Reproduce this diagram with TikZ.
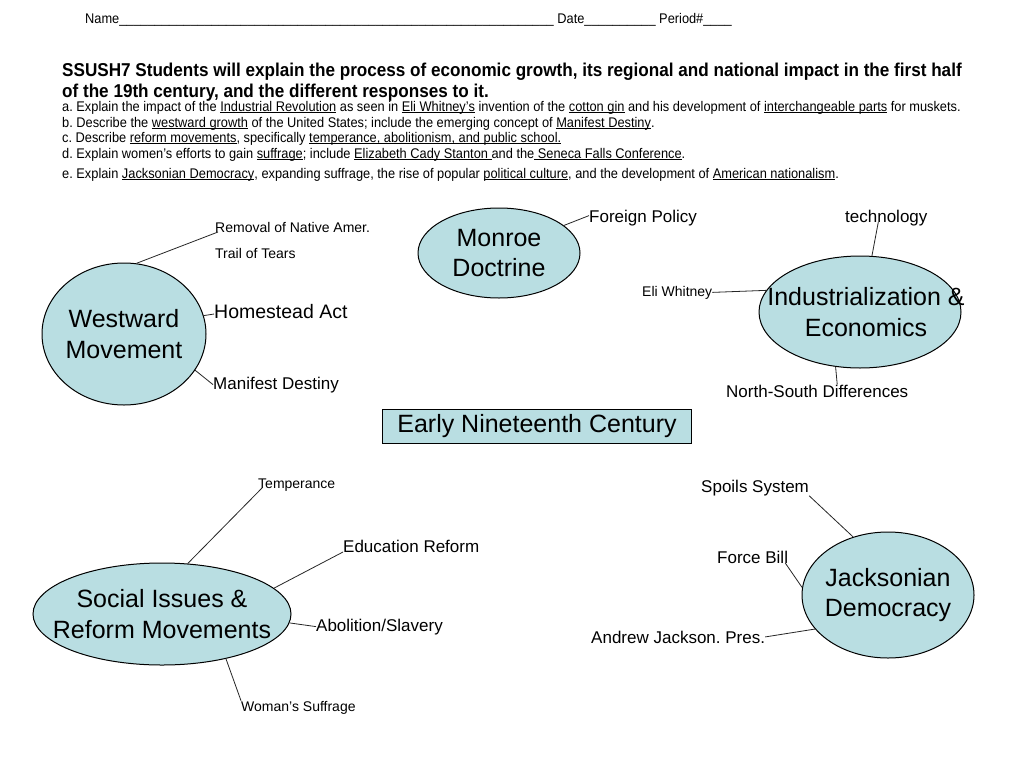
\documentclass[tikz,border=0pt]{standalone}
\usepackage{fontspec}
\setmainfont{Liberation Sans}
\newfontfamily\headfont[FakeStretch=0.915]{Liberation Sans}
\newfontfamily\titlefont[FakeStretch=0.92]{Liberation Sans}
\usetikzlibrary{shapes.geometric}

\definecolor{bubfill}{RGB}{185,222,226}
\newcommand{\fsz}[2]{\fontsize{#1}{#2}\selectfont}
\newcommand{\ul}[1]{\underline{\smash{#1}}}
\newcommand{\blanks}[1]{\foreach \i in {1,...,#1}{\_}}
\frenchspacing

\begin{document}
\begin{tikzpicture}[x=1pt, y=-1pt,
  bub/.style={ellipse, draw=black, fill=bubfill, line width=1pt, inner sep=0pt},
  bubtxt/.style={align=center, inner sep=0pt, font=\fsz{25}{30.5}},
  ctrbox/.style={draw=black, fill=bubfill, line width=1pt, inner sep=0pt, font=\fsz{25}{30}},
  lbl/.style={anchor=base west, inner sep=0pt, font=\fsz{17}{20}},
  sml/.style={lbl, font=\fsz{14}{17}},
  hline/.style={anchor=base west, inner sep=0pt, font=\headfont\fsz{14}{16}},
  ttl/.style={anchor=base west, inner sep=0pt, font=\titlefont\bfseries\fsz{18.6}{21}},
  link/.style={draw=black!85, line width=0.8pt}]
\fill[white] (0,0) rectangle (1024,768);
\useasboundingbox (0,0) rectangle (1024,768);

% worksheet header
\node[hline] (name) at (85,24) {Name\blanks{61} Date\blanks{10} Period\#\blanks{4}};
\node[ttl] (t1) at (62,76) {SSUSH7 Students will explain the process of economic growth, its regional and national impact in the first half};
\node[ttl] (t2) at (62,97) {of the 19th century, and the different responses to it.};
\node[hline] (la) at (62,111) {a. Explain the impact of the \ul{Industrial Revolution} as seen in \ul{Eli Whitney’s} invention of the \ul{cotton gin} and his development of \ul{interchangeable parts} for muskets.};
\node[hline] (lb) at (62,127) {b. Describe the \ul{westward growth} of the United States; include the emerging concept of \ul{Manifest Destiny}.};
\node[hline] (lc) at (62,142) {c. Describe \ul{reform movements}, specifically \ul{temperance, abolitionism, and public school.}};
\node[hline] (ld) at (62,158) {d. Explain women’s efforts to gain \ul{suffrage}; include \ul{Elizabeth Cady Stanton }and the\ul{ Seneca Falls Conference}.};
\node[hline] (le) at (62,178) {e. Explain \ul{Jacksonian Democracy}, expanding suffrage, the rise of popular \ul{political culture}, and the development of \ul{American nationalism}.};

% topic bubbles
\node[bub, minimum width=162pt, minimum height=90pt] (mon) at (499,253) {};
\node[bubtxt] (mont) at (mon) {Monroe\\Doctrine};
\node[bub, minimum width=164pt, minimum height=142pt] (ww) at (124,334) {};
\node[bubtxt] (wwt) at (ww) {Westward\\Movement};
\node[bub, minimum width=202pt, minimum height=112pt] (ind) at (860,312) {};
\node[bubtxt] (indt) at ([xshift=6pt]ind.center) {Industrialization \&\\Economics};
\node[bub, minimum width=258pt, minimum height=102pt] (soc) at (162,614) {};
\node[bubtxt] (soct) at (soc) {Social Issues \&\\Reform Movements};
\node[bub, minimum width=172pt, minimum height=126pt] (jac) at (888,595) {};
\node[bubtxt] (jact) at (jac) {Jacksonian\\Democracy};
\node[ctrbox, minimum width=309pt, minimum height=34pt] (ctr) at (537,426) {Early Nineteenth Century};

% labels
\node[sml] (rem) at (215,232) {Removal of Native Amer.};
\node[sml] (trail) at (215,258) {Trail of Tears};
\node[lbl, font=\fsz{19.5}{23}] (home) at (214,318) {Homestead Act};
\node[lbl] (mani) at (213,389) {Manifest Destiny};
\node[lbl] (fp) at (589,222) {Foreign Policy};
\node[lbl] (tech) at (845,222) {technology};
\node[sml] (eli) at (642,296) {Eli Whitney};
\node[lbl] (nsd) at (726,397) {North-South Differences};
\node[sml] (temp) at (258,488) {Temperance};
\node[lbl] (edu) at (343,552) {Education Reform};
\node[lbl] (abol) at (316,631) {Abolition/Slavery};
\node[sml] (wom) at (241,711) {Woman’s Suffrage};
\node[lbl] (spoil) at (701,492) {Spoils System};
\node[lbl] (force) at (717,563) {Force Bill};
\node[lbl] (andr) at (591,643) {Andrew Jackson. Pres.};

% connectors
\draw[link] (ww.80) -- ([xshift=3pt]rem.base west);
\draw[link] (ww.13) -- ([yshift=-3pt]home.west);
\draw[link] (ww.-27) -- (mani.west);
\draw[link] (mon.23) -- ([yshift=2pt]fp.west);
\draw[link] (ind.78) -- ([xshift=-8pt]tech.base);
\draw[link] (ind.167) -- (eli.east);
\draw[link] (ind.246) -- ([xshift=20pt]nsd.north);
\draw[link] (soc.63) -- ([xshift=4pt]temp.base west);
\draw[link] (soc.13) -- (edu.base west);
\draw[link] (soc.-4) -- (abol.west);
\draw[link] (soc.-35) -- (wom.north west);
\draw[link] (jac.121) -- (spoil.south east);
\draw[link] (jac.175) -- ([xshift=-3pt]force.base east);
\draw[link] (jac.205) -- (andr.east);
\end{tikzpicture}
\end{document}
